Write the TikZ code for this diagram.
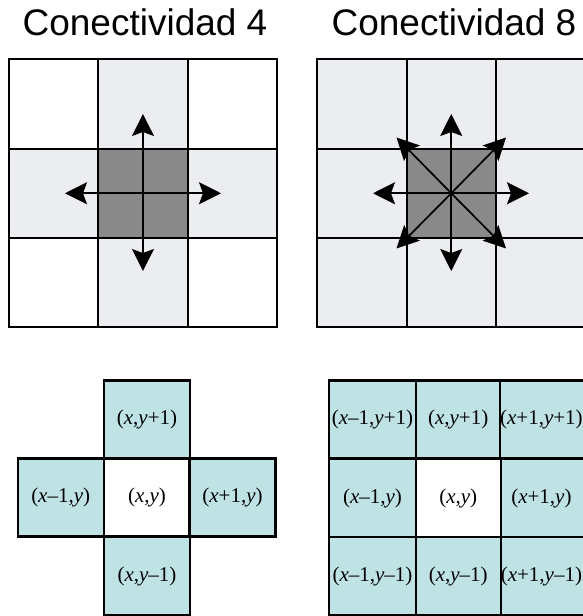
\documentclass[tikz,border=0pt]{standalone}
\usepackage{fontspec}
\setmainfont{Liberation Sans}
\newfontfamily\tnr{Liberation Serif}
\usetikzlibrary{arrows.meta}
\definecolor{lgray}{RGB}{236,237,240}
\definecolor{dgray}{RGB}{137,137,137}
\definecolor{lblue}{RGB}{191,226,229}
\tikzset{
  gcell/.style={draw=black, line width=2.2pt, minimum width=89.3pt, minimum height=89.3pt, inner sep=0pt, outer sep=0pt},
  bcell/.style={draw=black, line width=2.2pt, minimum width=86pt, minimum height=78pt, inner sep=0pt, outer sep=0pt, fill=lblue, font=\tnr\fontsize{21}{21}\selectfont},
  bcellw/.style={bcell, fill=white},
  narrow/.style={line width=1.7pt, -{Stealth[length=22pt,width=22pt,inset=4pt]}},
  title/.style={font=\fontsize{37}{37}\selectfont, anchor=base, inner sep=0pt}
}
\newcommand{\vx}{\textit{x}}
\newcommand{\vy}{\textit{y}}
\begin{document}
\begin{tikzpicture}[x=1pt,y=-1pt]
\clip (0,0) rectangle (583,616);
\fill[white] (0,0) rectangle (583,616);
% titles
\node[title] (t4) at (145,35.5) {Conectividad 4};
\node[title] (t8) at (454,35.5) {Conectividad 8};
% top-left grid (4-connectivity)
\foreach \i/\x in {0/53.65,1/142.95,2/232.25}{
  \foreach \j/\y in {0/103.95,1/193.25,2/282.55}{
    \node[gcell, fill=white] (L-\i-\j) at (\x,\y) {};
  }
}
\node[gcell, fill=lgray] (L-1-0b) at (L-1-0) {};
\node[gcell, fill=lgray] (L-0-1b) at (L-0-1) {};
\node[gcell, fill=lgray] (L-2-1b) at (L-2-1) {};
\node[gcell, fill=lgray] (L-1-2b) at (L-1-2) {};
\node[gcell, fill=dgray] (L-1-1b) at (L-1-1) {};
\coordinate (Lc) at (L-1-1);
\coordinate (Lu) at (142.95,114);
\coordinate (Ld) at (142.95,271);
\coordinate (Ll) at (65,193.25);
\coordinate (Lr) at (221,193.25);
\foreach \t in {Lu,Ld,Ll,Lr}{ \draw[narrow] (Lc) -- (\t); }
% top-right grid (8-connectivity)
\foreach \i/\x in {0/361.95,1/451.25,2/540.55}{
  \foreach \j/\y in {0/103.95,1/193.25,2/282.55}{
    \node[gcell, fill=lgray] (R-\i-\j) at (\x,\y) {};
  }
}
\node[gcell, fill=dgray] (R-1-1b) at (R-1-1) {};
\coordinate (Rc) at (R-1-1);
\coordinate (Ru) at (451.25,114);
\coordinate (Rd) at (451.25,271);
\coordinate (Rl) at (373,193.25);
\coordinate (Rr) at (529,193.25);
\coordinate (Rul) at (396.5,137.5);
\coordinate (Rur) at (506,137.5);
\coordinate (Rdl) at (396.5,248.5);
\coordinate (Rdr) at (506,248.5);
\foreach \t in {Ru,Rd,Rl,Rr,Rul,Rur,Rdl,Rdr}{ \draw[narrow] (Rc) -- (\t); }
% bottom-left cross
\node[bcell] (B-n) at (147,419.5) {(\vx,\vy+1)};
\node[bcell] (B-w) at (60.7,497.5) {(\vx–1,\vy)};
\node[bcellw] (B-c) at (147,497.5) {(\vx,\vy)};
\node[bcell] (B-e) at (232.5,497.5) {(\vx+1,\vy)};
\node[bcell] (B-s) at (147,576) {(\vx,\vy–1)};
% bottom-right 3x3
\node[bcell, minimum width=86.4pt] (G-nw) at (372.5,419.5) {(\vx–1,\vy+1)};
\node[bcell, minimum width=85pt] (G-n) at (458.2,419.5) {(\vx,\vy+1)};
\node[bcell, minimum width=85.3pt] (G-ne) at (543.4,419.5) {(\vx+1,\vy+1)\kern4pt};
\node[bcell, minimum width=86.4pt] (G-w) at (372.5,498) {(\vx–1,\vy)};
\node[bcellw, minimum width=85pt] (G-c) at (458.2,498) {(\vx,\vy)};
\node[bcell, minimum width=85.3pt] (G-e) at (543.4,498) {(\vx+1,\vy)\kern4pt};
\node[bcell, minimum width=86.4pt] (G-sw) at (372.5,576) {(\vx–1,\vy–1)};
\node[bcell, minimum width=85pt] (G-s) at (458.2,576) {(\vx,\vy–1)};
\node[bcell, minimum width=85.3pt] (G-se) at (543.4,576) {(\vx+1,\vy–1)\kern4pt};
\end{tikzpicture}
\end{document}
